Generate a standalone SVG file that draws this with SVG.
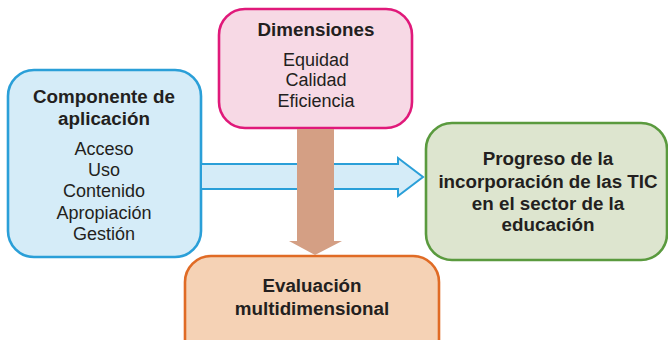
<svg xmlns="http://www.w3.org/2000/svg" width="668" height="340" viewBox="0 0 668 340">
<style>
text{font-family:"Liberation Sans",Arial,sans-serif;fill:#231f20;text-anchor:middle}
.b{font-weight:bold;font-size:18.8px}
.r{font-size:18px}
.box{stroke-width:2.6}
</style>
<rect width="668" height="340" fill="#ffffff"/>
<g id="n-componente">
<rect class="box" x="8" y="70" width="193" height="187" rx="26" fill="#d5ecf8" stroke="#2a9fd8"/>
<text class="b" x="104" y="103">Componente de</text>
<text class="b" x="104" y="125">aplicación</text>
<text class="r" x="104" y="155">Acceso</text>
<text class="r" x="104" y="176">Uso</text>
<text class="r" x="104" y="197">Contenido</text>
<text class="r" x="104" y="219">Apropiación</text>
<text class="r" x="104" y="240">Gestión</text>
</g>
<g id="n-dimensiones">
<rect class="box" x="219" y="9" width="193" height="119" rx="26" fill="#f7d9e5" stroke="#e0197a"/>
<text class="b" x="316" y="36">Dimensiones</text>
<text class="r" x="316" y="66">Equidad</text>
<text class="r" x="316" y="86">Calidad</text>
<text class="r" x="316" y="107">Eficiencia</text>
</g>
<g id="n-progreso">
<rect class="box" x="426" y="123" width="241" height="137" rx="26" fill="#dde5cf" stroke="#5a9a3e"/>
<text class="b" x="548" y="165">Progreso de la</text>
<text class="b" x="548" y="188">incorporación de las TIC</text>
<text class="b" x="548" y="210">en el sector de la</text>
<text class="b" x="548" y="231">educación</text>
</g>
<g id="n-evaluacion">
<rect class="box" x="185" y="256" width="254" height="110" rx="26" fill="#f5d2b5" stroke="#e06b25"/>
<text class="b" x="312" y="292">Evaluación</text>
<text class="b" x="312" y="315">multidimensional</text>
</g>
<g id="connectors">
<path d="M201,164 H398 V158 L423,177 L398,196 V189 H201 Z" fill="#d5ecf8" stroke="#2a9fd8" stroke-width="2"/>
<path d="M297,129 H334 V241 H342 L315,255 L289,241 H297 Z" fill="#d49f84"/>
</g>
</svg>
